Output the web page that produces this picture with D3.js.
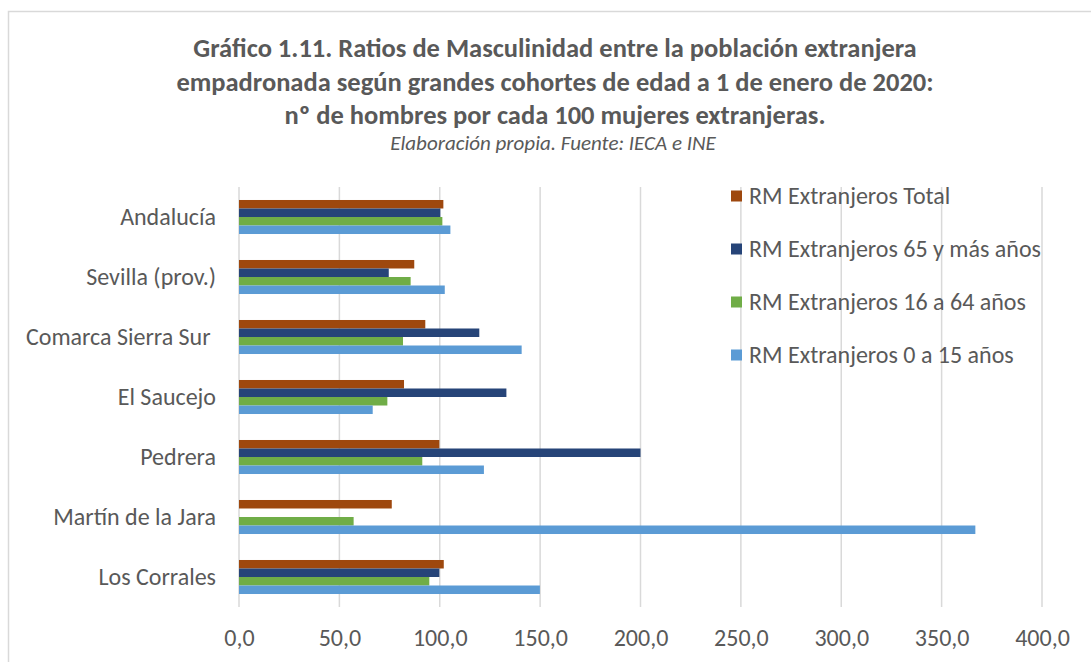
<!DOCTYPE html>
<html>
<head>
<meta charset="utf-8">
<script src="https://cdn.jsdelivr.net/npm/d3@7"></script>
<style>
  body { margin: 0; background: #fff; }
  svg { display: block; }
  text { font-family: Carlito, Calibri, Lato, sans-serif; fill: #595959; }
</style>
</head>
<body>
<script>
// datos
var categories = ["Andalucía", "Sevilla (prov.)", "Comarca Sierra Sur ", "El Saucejo", "Pedrera", "Martín de la Jara", "Los Corrales"];
var seriesNames = ["RM Extranjeros Total", "RM Extranjeros 65 y más años", "RM Extranjeros 16 a 64 años", "RM Extranjeros 0 a 15 años"];
var seriesColors = ["#9E480E", "#264478", "#70AD47", "#5B9BD5"];
var rmTotal = [101.8, 87.3, 92.8, 82.2, 99.8, 76.1, 102.0];
var rm65 = [100.3, 74.6, 119.7, 133.2, 200.0, null, 99.8];
var rm16a64 = [101.3, 85.5, 81.7, 73.9, 91.3, 57.1, 94.8];
var rm0a15 = [105.3, 102.5, 140.8, 66.6, 122.0, 366.8, 149.9];
var xTicks = [0, 50, 100, 150, 200, 250, 300, 350, 400];
var titleLines = [
  "Gráfico 1.11. Ratios de Masculinidad entre la población extranjera",
  "empadronada según grandes cohortes de edad a 1 de enero de 2020:",
  "nº de hombres por cada 100 mujeres extranjeras."
];
var subtitle = "Elaboración propia. Fuente: IECA e INE";

var seriesValues = [rmTotal, rm65, rm16a64, rm0a15];

var width = 1091,
    height = 662,
    plotLeft = 239,
    plotRight = 1042,
    plotTop = 187,
    plotBottom = 607,
    labelSize = 24;

var svg = d3.select("body").append("svg")
    .attr("width", width)
    .attr("height", height);

// borde del gráfico
svg.append("rect")
    .attr("x", 8.5).attr("y", 11.5)
    .attr("width", 1200).attr("height", 800)
    .attr("fill", "none")
    .attr("stroke", "#d9d9d9")
    .attr("stroke-width", 1.5);

// título
var title = svg.append("g").attr("text-anchor", "middle");
titleLines.forEach(function(t, i){
  title.append("text")
      .attr("x", 555)
      .attr("y", 57 + i * 33.5)
      .attr("font-size", 26.5)
      .attr("font-weight", "bold")
      .text(t);
});
title.append("text")
    .attr("x", 553)
    .attr("y", 150)
    .attr("font-size", 21)
    .attr("font-style", "italic")
    .text(subtitle);

var x = d3.scaleLinear().domain([0, 400]).range([plotLeft, plotRight]);
var y = d3.scaleBand().domain(categories).range([plotTop, plotBottom])
    .paddingInner(0.433).paddingOuter(0.2165);
var ySub = d3.scaleBand().domain(d3.range(seriesNames.length)).range([0, y.bandwidth()]);

// líneas de división
svg.append("g").selectAll("line")
    .data(xTicks)
    .join("line")
    .attr("x1", function(d){ return x(d); })
    .attr("x2", function(d){ return x(d); })
    .attr("y1", plotTop)
    .attr("y2", plotBottom)
    .attr("stroke", "#d9d9d9")
    .attr("stroke-width", 1.5);

// eje x
var xAxis = svg.append("g")
    .attr("transform", "translate(0," + (plotBottom + 19) + ")")
    .call(d3.axisBottom(x).tickValues(xTicks).tickSize(0)
      .tickFormat(function(d){ return d3.format(".1f")(d).replace(".", ","); }));
xAxis.select(".domain").remove();
xAxis.selectAll("text")
    .attr("font-size", labelSize)
    .attr("font-family", null)
    .attr("fill", "#595959");

// eje y
var yAxis = svg.append("g")
    .attr("transform", "translate(" + (plotLeft - 23) + ",0)")
    .call(d3.axisLeft(y).tickSize(0));
yAxis.select(".domain").remove();
yAxis.selectAll("text")
    .attr("font-size", labelSize)
    .attr("font-family", null)
    .attr("fill", "#595959")
    .attr("x", 0)
    .attr("dy", "0.35em")
    .style("white-space", "pre");

// barras
seriesValues.forEach(function(vals, s){
  svg.append("g")
      .attr("fill", seriesColors[s])
      .selectAll("rect")
      .data(vals.map(function(v, i){ return {cat: categories[i], v: v}; })
        .filter(function(d){ return d.v !== null; }))
      .join("rect")
      .attr("x", x(0))
      .attr("y", function(d){ return y(d.cat) + ySub(s); })
      .attr("width", function(d){ return x(d.v) - x(0); })
      .attr("height", ySub.bandwidth());
});

// leyenda
var legend = svg.append("g");
seriesNames.forEach(function(name, i){
  var ly = 196 + i * 53;
  legend.append("rect")
      .attr("x", 731).attr("y", ly - 5.5)
      .attr("width", 11).attr("height", 11)
      .attr("fill", seriesColors[i]);
  legend.append("text")
      .attr("x", 749).attr("y", ly)
      .attr("dy", "0.35em")
      .attr("font-size", labelSize)
      .text(name);
});
</script>
</body>
</html>
